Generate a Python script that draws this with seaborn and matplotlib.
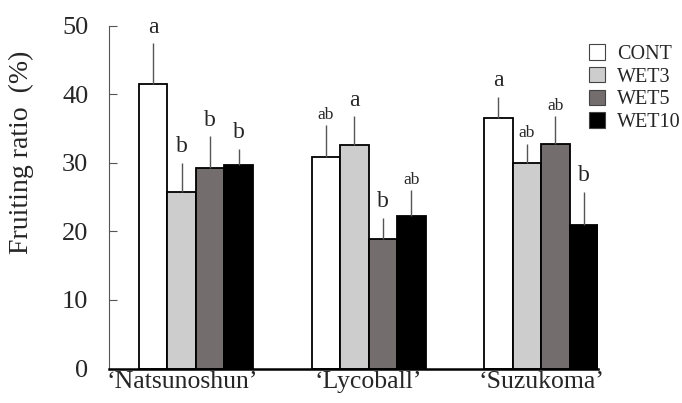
import matplotlib
matplotlib.use("Agg")
import matplotlib.pyplot as plt
import matplotlib.transforms as mtransforms
import seaborn as sns
import pandas as pd

cultivars = ["\u2018Natsunoshun\u2019", "\u2018Lycoball\u2019", "\u2018Suzukoma\u2019"]
treatments = ["CONT", "WET3", "WET5", "WET10"]
colors = ["#ffffff", "#cdcdcd", "#736d6d", "#000000"]

# mean fruiting ratio (%) per treatment, in cultivar order
cont = [41.6, 30.8, 36.6]
wet3 = [25.7, 32.6, 30.0]
wet5 = [29.3, 18.9, 32.7]
wet10 = [29.7, 22.2, 20.9]

# upper error (SE) per treatment
cont_err = [5.9, 4.7, 3.1]
wet3_err = [4.3, 4.2, 2.8]
wet5_err = [4.6, 3.1, 4.1]
wet10_err = [2.4, 3.8, 4.9]

# significance letters per treatment
cont_sig = ["a", "ab", "a"]
wet3_sig = ["b", "a", "ab"]
wet5_sig = ["b", "b", "ab"]
wet10_sig = ["b", "ab", "b"]

means = [cont, wet3, wet5, wet10]
errs = [cont_err, wet3_err, wet5_err, wet10_err]
sigs = [cont_sig, wet3_sig, wet5_sig, wet10_sig]

rows = []
for t, m in zip(treatments, means):
    for c, v in zip(cultivars, m):
        rows.append({"cultivar": c, "treatment": t, "ratio": v})
df = pd.DataFrame(rows)

sns.set_style("white")
plt.rcParams["font.family"] = ["Liberation Serif", "DejaVu Serif"]

fig = plt.figure(figsize=(6.82, 4.03), dpi=100)
ax = fig.add_axes([0.16, 0.0856, 0.717, 0.85])

sns.barplot(data=df, x="cultivar", y="ratio", hue="treatment",
            order=cultivars, hue_order=treatments, palette=colors,
            edgecolor="black", linewidth=1.3, width=0.66, errorbar=None,
            saturation=1, ax=ax)

for i, cont_bars in enumerate(ax.containers):
    for j, bar in enumerate(cont_bars):
        xc = bar.get_x() + bar.get_width() / 2
        top = bar.get_height()
        e = errs[i][j]
        ax.vlines(xc, top, top + e, color="#555555", linewidth=1.0, zorder=1)
        lab = sigs[i][j]
        small = len(lab) > 1
        ax.annotate(lab, (xc, top + e), xytext=(0, 2 if small else 4),
                    textcoords="offset points", ha="center", va="bottom",
                    fontsize=12.5 if small else 17)

ax.set_ylim(0, 50)
ax.set_xlim(-0.503, 2.33)
ax.set_yticks([0, 10, 20, 30, 40, 50])
ax.set_ylabel("Fruiting ratio  (%)", fontsize=20)
ax.yaxis.label.set_va("center")
ax.yaxis.set_label_coords(-0.18, 0.63)
ax.set_xlabel("")
ax.tick_params(axis="y", direction="in", length=6, width=0.8, color="#555555",
               labelsize=19, pad=15, left=True)
ax.tick_params(axis="x", length=0, labelsize=18.5, pad=2)

# first cultivar label sits slightly left of its group in the original
fig.canvas.draw()
first = ax.get_xticklabels()[0]
first.set_transform(first.get_transform() +
                    mtransforms.ScaledTranslation(-14 / 100, 0, fig.dpi_scale_trans))

sns.despine(ax=ax, top=True, right=True)
ax.spines["left"].set_color("#555555")
ax.spines["left"].set_linewidth(0.8)
ax.spines["bottom"].set_color("black")
ax.spines["bottom"].set_linewidth(1.8)

handles, labels = ax.get_legend_handles_labels()
if ax.get_legend() is not None:
    ax.get_legend().remove()
leg = fig.legend(handles, labels, loc="upper left", bbox_to_anchor=(0.864, 0.89),
                 frameon=False, fontsize=14.5, handlelength=0.8, handleheight=0.8,
                 handletextpad=0.6, labelspacing=0.15, borderpad=0, borderaxespad=0)
for h in leg.legend_handles:
    h.set_edgecolor("#444444")
    h.set_linewidth(0.8)

fig.savefig("out.png", dpi=100)
